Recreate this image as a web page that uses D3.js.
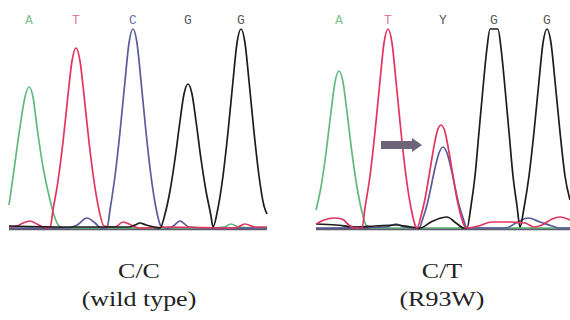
<!DOCTYPE html>
<html>
<head>
<meta charset="utf-8">
<script src="https://cdn.jsdelivr.net/npm/d3@7"></script>
<style>
  body { margin: 0; background: #fff; }
  svg { display: block; }
</style>
</head>
<body>
<svg id="chart" width="570" height="320"></svg>
<script>
// base calls and where they sit (scan units)
const leftBases = ["A", "T", "C", "G", "G"]
const leftBasePos = [20, 67, 124, 179, 232]
const rightBases = ["A", "T", "Y", "G", "G"]
const rightBasePos = [23, 72, 127, 178, 231]

// traces: [scan, intensity]
const leftGreen = [[0,23],[4,51],[11,101],[16,131],[20,141],[24,131],[28,101],[34,61],[41,28],[46,10],[50,2],[56,0],[120,0],[200,0],[215,1],[222,4],[230,1],[258,0]]
const leftRed = [[0,1],[8,2],[14,5],[21,7],[28,4],[34,1],[41,0],[44,18],[49,47],[54,86],[59,133],[63,167],[67,180],[71,167],[75,133],[80,86],[85,47],[90,18],[95,2],[106,1],[114,6],[122,3],[130,0],[160,1],[226,0],[236,4],[246,1],[258,1]]
const leftBlue = [[0,0],[60,0],[68,3],[78,10],[86,5],[92,0],[98,0],[101,18],[106,52],[111,96],[116,147],[120,185],[124,199],[128,185],[132,147],[137,96],[142,52],[147,20],[152,2],[158,0],[163,1],[171,7],[180,1],[200,0],[258,0]]
const leftBlack = [[0,2],[60,1],[100,1],[120,1],[126,3],[131,5],[137,3],[145,1],[151,0],[156,14],[161,37],[166,69],[171,107],[175,134],[179,144],[183,134],[187,107],[192,69],[197,37],[202,12],[204,1],[209,20],[214,52],[219,96],[224,147],[228,185],[232,199],[236,185],[240,147],[245,96],[250,52],[255,22],[258,14]]

const rightGreen = [[0,18],[5,41],[10,75],[15,116],[19,146],[23,157],[27,146],[31,116],[36,75],[41,41],[46,16],[50,3],[55,0],[254,0]]
const rightRed = [[0,4],[8,8],[18,10],[26,9],[33,3],[38,0],[46,0],[49,20],[54,52],[59,96],[64,147],[68,185],[72,199],[76,185],[80,147],[85,96],[90,52],[95,20],[100,1],[101,0],[105,12],[109,29],[113,52],[117,76],[121,96],[125,103],[129,96],[133,76],[137,52],[141,29],[145,12],[150,0],[162,2],[176,6],[192,6],[209,5],[218,1],[226,3],[236,9],[244,11],[254,8]]
const rightBlue = [[0,0],[70,1],[80,4],[88,1],[103,0],[107,10],[111,23],[115,41],[119,60],[123,75],[127,81],[131,75],[135,60],[139,41],[143,23],[147,10],[151,0],[190,0],[200,5],[212,10],[224,6],[236,2],[244,0],[254,0]]
const rightBlack = [[0,4],[20,3],[40,1],[60,2],[80,3],[95,1],[104,0],[115,6],[125,10],[131,11],[140,5],[148,0],[151,0],[155,22],[159,52],[163,96],[167,140],[171,180],[174,199],[182,199],[185,180],[189,140],[193,96],[197,52],[201,22],[204,1],[208,20],[213,52],[218,96],[223,147],[227,185],[231,199],[235,185],[239,147],[244,96],[249,52],[254,28]]

const captionTop = ["C/C", "C/T"]
const captionBottom = ["(wild type)", "(R93W)"]
const captionX = [139, 442]

// arrow marks the heterozygous Y call (scan, intensity of the tip)
const arrowAt = [106, 83]

const colors = { A: "#63b97c", T: "#e3335f", C: "#5a5a9c", G: "#1c1c1c" }
const letterColors = { A: "#7cc690", T: "#e57a95", C: "#6b6bb0", G: "#5a5a5a", Y: "#5a5a5a" }

const svg = d3.select("#chart")

const y = d3.scaleLinear().domain([0, 200]).range([228, 28])

const panels = [
  { x: d3.scaleLinear().domain([0, 258]).range([9, 267]), bases: leftBases, pos: leftBasePos,
    traces: [["A", leftGreen], ["C", leftBlue], ["T", leftRed], ["G", leftBlack]] },
  { x: d3.scaleLinear().domain([0, 254]).range([316, 570]), bases: rightBases, pos: rightBasePos,
    traces: [["A", rightGreen], ["C", rightBlue], ["G", rightBlack], ["T", rightRed]] }
]

panels.forEach((p, i) => {
  const g = svg.append("g")
  const line = d3.line()
    .x(d => p.x(d[0]))
    .y(d => y(d[1]))
    .curve(d3.curveMonotoneX)

  // baseline
  g.append("line")
    .attr("x1", p.x.range()[0]).attr("x2", p.x.range()[1])
    .attr("y1", y(0) + 1).attr("y2", y(0) + 1)
    .attr("stroke", "#5e5a6e")
    .attr("stroke-width", 2.5)

  g.selectAll("path.trace")
    .data(p.traces)
    .join("path")
    .attr("class", "trace")
    .attr("fill", "none")
    .attr("stroke", d => colors[d[0]])
    .attr("stroke-width", 1.7)
    .attr("stroke-linejoin", "round")
    .attr("d", d => line(d[1]))

  g.selectAll("text.base")
    .data(p.bases)
    .join("text")
    .attr("class", "base")
    .attr("x", (d, j) => p.x(p.pos[j]))
    .attr("y", 24)
    .attr("text-anchor", "middle")
    .style("font-family", "'Liberation Mono', monospace")
    .style("font-size", "13px")
    .attr("fill", d => letterColors[d] || "#555")
    .text(d => d)

  // captions, slightly stretched like the original figure
  g.append("text")
    .attr("transform", `translate(${captionX[i]},278) scale(1.18,1)`)
    .attr("text-anchor", "middle")
    .style("font-family", "'Liberation Serif', serif")
    .style("font-size", "22px")
    .attr("fill", "#222")
    .text(captionTop[i])
  g.append("text")
    .attr("transform", `translate(${captionX[i]},306) scale(1.18,1)`)
    .attr("text-anchor", "middle")
    .style("font-family", "'Liberation Serif', serif")
    .style("font-size", "22px")
    .attr("fill", "#222")
    .text(captionBottom[i])
})

// arrow on the right panel
const rx = panels[1].x
const tipX = rx(arrowAt[0]), tipY = y(arrowAt[1])
svg.append("path")
  .attr("d", `M${tipX - 41},${tipY - 4} L${tipX - 10},${tipY - 4} L${tipX - 10},${tipY - 7} L${tipX},${tipY} L${tipX - 10},${tipY + 7} L${tipX - 10},${tipY + 4} L${tipX - 41},${tipY + 4} Z`)
  .attr("fill", "#6c6578")
</script>
</body>
</html>
